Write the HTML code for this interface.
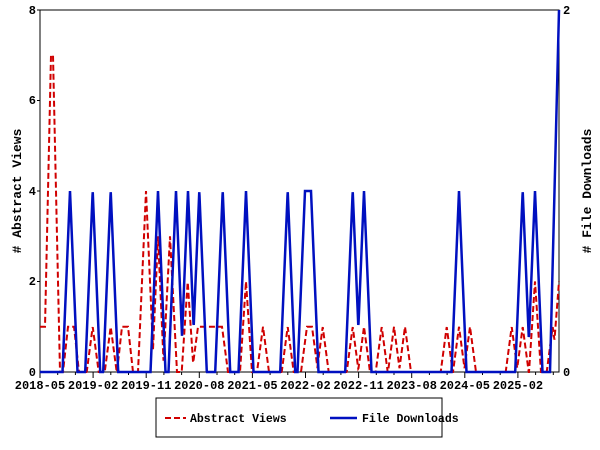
<!DOCTYPE html><html><head><style>body{margin:0;background:#fff}svg{display:block}text{font-family:"Liberation Mono","DejaVu Sans Mono",monospace;font-size:12px;font-weight:bold;fill:#000}</style></head><body>
<svg id="s" width="600" height="450" xmlns="http://www.w3.org/2000/svg">
<rect x="40" y="10" width="519" height="362" fill="none" stroke="#000" stroke-width="1"/>
<g id="ticks"></g>
<path id="red" fill="none" stroke="#d00000" stroke-width="2" stroke-dasharray="6,3"/>
<path id="blue" fill="none" stroke="#0010c0" stroke-width="2.5"/>
<text x="36" y="14" text-anchor="end">8</text>
<text x="36" y="104" text-anchor="end">6</text>
<text x="36" y="195" text-anchor="end">4</text>
<text x="36" y="285" text-anchor="end">2</text>
<text x="36" y="376" text-anchor="end">0</text>
<text x="563" y="14">2</text>
<text x="563" y="376">0</text>
<text transform="translate(21,191) rotate(-90)" text-anchor="middle" style="font-size:13px">#&#160;Abstract&#160;Views</text>
<text transform="translate(591,191) rotate(-90)" text-anchor="middle" style="font-size:13px">#&#160;File&#160;Downloads</text>
<g id="xl"></g>
<rect x="156" y="398" width="286" height="39" fill="#fff" stroke="#000"/>
<line x1="165" y1="418" x2="186" y2="418" stroke="#d00000" stroke-width="2" stroke-dasharray="6,3"/>
<text x="190" y="422" style="font-size:11.5px">Abstract Views</text>
<line x1="330" y1="418" x2="357" y2="418" stroke="#0010c0" stroke-width="2.5"/>
<text x="362" y="422" style="font-size:11.5px">File Downloads</text>
</svg>
<script>
var NS="http://www.w3.org/2000/svg";
function Y(v){return 372-v*45.25;}
function prof(peaks,x0,x1,dhw){var d="";for(var x=x0;x<=x1+0.001;x+=0.25){var v=0;peaks.forEach(function(p){var c=p[0],h=p[1],w=p[2]||0,hw=p[3]||dhw;var dx=Math.abs(x-c)-w;var t=dx<=0?h:Math.max(0,h*(1-dx/hw));if(t>v)v=t;});d+=(d?"L":"M")+x+","+Y(v).toFixed(1);}return d;}
var B=[[70,4],[92.7,4],[110.7,4],[158,4],[176,4],[188,4],[199.3,4],[222.7,4],[246,4],[287.7,4],[308,4,3],[352.7,4],[364,4],[459,4],[522.7,4],[535,4],[559,8,0,9]];
document.getElementById("blue").setAttribute("d",prof(B,40,559,7.5));
var R=[[43,1,3,1],[52,7,1,7],[71,1,3,5],[92.7,1],[110.7,1],[125,1,3,5],[146,4,0,8],[158,3],[170,3,0,7],[187.7,2],[210,1,12,6],[246,2],[263,1],[287.7,1],[309.5,1,2.5],[322.7,1],[352.7,1],[364,1],[381.7,1],[394,1],[405,1],[446.7,1],[459,1],[470,1],[511.7,1],[522.7,1],[535,2],[552.7,1],[559,2,0,7]];
document.getElementById("red").setAttribute("d",prof(R,40,559,6));
var g=document.getElementById("ticks"),xl=document.getElementById("xl");
var labs=["2018-05","2019-02","2019-11","2020-08","2021-05","2022-02","2022-11","2023-08","2024-05","2025-02"];
for(var i=0;i<10;i++){var x=40+i*53.1;var l=document.createElementNS(NS,"line");l.setAttribute("x1",x);l.setAttribute("x2",x);l.setAttribute("y1",372);l.setAttribute("y2",378);l.setAttribute("stroke","#000");g.appendChild(l);
for(var k=1;k<3;k++){var m=document.createElementNS(NS,"line");var mx=x+k*17.7;if(mx>559)break;m.setAttribute("x1",mx);m.setAttribute("x2",mx);m.setAttribute("y1",372);m.setAttribute("y2",375);m.setAttribute("stroke","#000");g.appendChild(m);}
var t=document.createElementNS(NS,"text");t.setAttribute("x",x);t.setAttribute("y",389);t.setAttribute("text-anchor","middle");t.textContent=labs[i];xl.appendChild(t);}
[[10],[100.5],[191],[281.5]].forEach(function(a){var l=document.createElementNS(NS,"line");l.setAttribute("x1",37);l.setAttribute("x2",40);l.setAttribute("y1",a[0]);l.setAttribute("y2",a[0]);l.setAttribute("stroke","#000");g.appendChild(l);});
</script>
</body></html>
